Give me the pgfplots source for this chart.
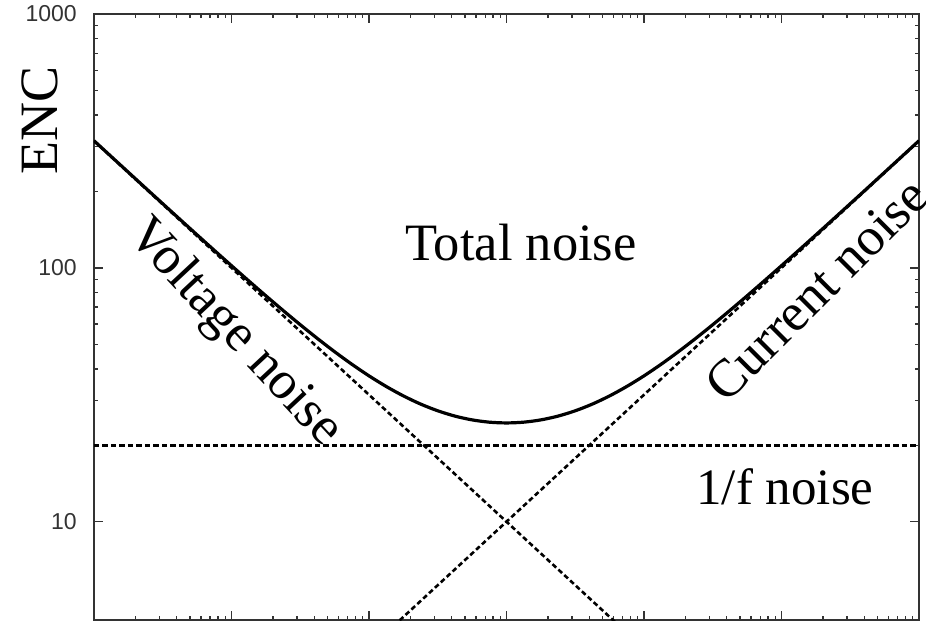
\documentclass[border=0pt]{standalone}
\usepackage{fontspec}
\setmainfont{Liberation Serif}
\newfontfamily\ticksans{Liberation Sans}
\usepackage{pgfplots}
\pgfplotsset{compat=1.18}

\definecolor{axisgray}{HTML}{333333}

% ENC contributions versus shaping time (log-log)
% total = sqrt(voltage^2 + current^2 + 1/f^2)
\begin{document}
\begin{tikzpicture}
\useasboundingbox (-94pt,-2pt) rectangle (832pt,620pt);
\begin{axis}[
  at={(0,0)}, anchor=south west,
  scale only axis, width=825pt, height=606pt,
  xmode=log, ymode=log,
  xmin=1e-3, xmax=1e3,
  ymin=4.1, ymax=1000,
  clip mode=individual,
  axis line style={axisgray, line width=1.8pt},
  tick style={axisgray, line width=1.4pt},
  major tick length=9pt, minor tick length=4.5pt,
  tick align=inside,
  xtick={1e-3,1e-2,1e-1,1,1e1,1e2,1e3},
  xticklabels={},
  ytick={10,100,1000},
  yticklabels={10,100,1000},
  yticklabel style={font=\ticksans\fontsize{23}{23}\selectfont, text=black!80, inner sep=0pt, xshift=-17pt},
]
% 1/f noise
\addplot[black, line width=2.6pt, dash pattern=on 5.5pt off 3pt] coordinates {(0.001,20) (1000,20)};
% voltage noise
\addplot[black, line width=2.6pt, dash pattern=on 5pt off 3pt] coordinates {(0.001,316.23) (1000,0.31623)};
% current noise
\addplot[black, line width=2.6pt, dash pattern=on 5pt off 3pt] coordinates {(0.001,0.31623) (1000,316.23)};
% total noise
\addplot[black, line width=3.2pt, smooth] coordinates {
(0.001,316.86) (0.0013335,274.571) (0.0017783,237.980) (0.0023714,206.277)
(0.0031623,178.950) (0.0042170,155.287) (0.0056234,134.846) (0.0074989,117.200)
(0.01,101.985) (0.013335,88.884) (0.017783,77.622) (0.023714,67.966)
(0.031623,59.711) (0.042170,52.684) (0.056234,46.732) (0.074989,41.725)
(0.1,37.550) (0.13335,34.106) (0.17783,31.307) (0.23714,29.076)
(0.31623,27.347) (0.42170,26.064) (0.56234,25.181) (0.74989,24.665)
(1,24.495)
(1.33352,24.665) (1.77828,25.181) (2.37137,26.064) (3.16228,27.347)
(4.21697,29.076) (5.62341,31.307) (7.49894,34.106) (10,37.550)
(13.3352,41.725) (17.7828,46.732) (23.7137,52.684) (31.6228,59.711)
(42.1697,67.966) (56.2341,77.622) (74.9894,88.884) (100,101.985)
(133.352,117.200) (177.828,134.846) (237.137,155.287) (316.228,178.950)
(421.697,206.277) (562.341,237.980) (749.894,274.571) (1000,316.86)
};
\node[font=\fontsize{52.5}{52.5}\selectfont, anchor=base] at (rel axis cs:0.5176,0.5924) {Total noise};
\node[font=\fontsize{51}{51}\selectfont, anchor=base] at (rel axis cs:0.8376,0.1898) {1/f noise};
\node[font=\fontsize{53.5}{53.5}\selectfont, rotate=-47] at (rel axis cs:0.170,0.473) {Voltage noise};
\node[font=\fontsize{53.5}{53.5}\selectfont, rotate=45] at (rel axis cs:0.876,0.545) {Current noise};
\node[font=\fontsize{54}{54}\selectfont, rotate=90] at (rel axis cs:-0.0655,0.825) {ENC};
\end{axis}
\end{tikzpicture}
\end{document}
